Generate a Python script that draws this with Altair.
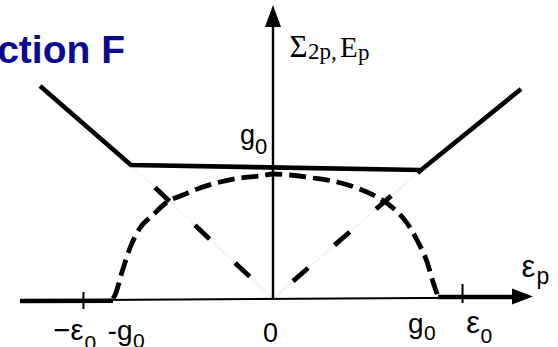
import altair as alt
import pandas as pd

# ---------------------------------------------------------------------------
# Quantities, all in units of the gap g0 (horizontal axis: epsilon_p)
# ---------------------------------------------------------------------------
G0 = 1.0
EPS0 = 1.17

# Sigma_2p: nearly flat inside the window, rising linearly outside it
sigma_eps = [-1.438, -0.877, 0.914, 1.531]
sigma_val = [1.700, 1.068, 1.028, 1.676]

# E_p: dome that closes at +-g0
gap_eps = [-0.988, -0.975, -0.932, -0.883, -0.821, -0.741, -0.654, -0.556,
           -0.451, -0.327, -0.204, -0.080, 0.000, 0.105, 0.247, 0.395,
           0.519, 0.642, 0.741, 0.827, 0.895, 0.951, 0.988, 1.019]
gap_val = [0.000, 0.028, 0.212, 0.404, 0.564, 0.668, 0.772, 0.828,
           0.884, 0.932, 0.964, 0.980, 0.996, 0.988, 0.964, 0.932,
           0.884, 0.812, 0.724, 0.604, 0.452, 0.292, 0.132, 0.012]

# tick labels along the epsilon_p axis (main glyph, subscript)
tick_eps = [-EPS0, -G0, 0.0, G0, EPS0]
tick_main = ["\u2212\u03b5", "-g", "0", "g", "\u03b5"]
tick_sub = ["0", "0", "", "0", "0"]

# ---------------------------------------------------------------------------
# Frame: pixel size, origin and pixels per unit
# ---------------------------------------------------------------------------
W, H = 558, 347
OX, OY = 273.0, 298.5
PX_E, PX_V = 162.0, 125.0

xs = alt.Scale(domain=[-OX / PX_E, (W - OX) / PX_E], nice=False, zero=False)
ys = alt.Scale(domain=[-(H - OY) / PX_V, OY / PX_V], nice=False, zero=False)
X = alt.X("e:Q", scale=xs, axis=None)
Y = alt.Y("v:Q", scale=ys, axis=None)
X2 = alt.X2("e2:Q")
Y2 = alt.Y2("v2:Q")

# axis extents
AX_LEFT, AX_BASE, AX_TIP = -1.562, 1.475, 1.605
AY_BASE, AY_TIP = 2.172, 2.348

# ---------------------------------------------------------------------------
# Lines
# ---------------------------------------------------------------------------
sigma_df = pd.DataFrame({"e": sigma_eps, "v": sigma_val})
gap_df = pd.DataFrame({"e": gap_eps, "v": gap_val})

# |epsilon| guides from the origin to the kinks of Sigma_2p
legs = pd.DataFrame({
    "leg": ["L", "L", "R", "R"],
    "k": [0, 1, 0, 1],
    "e": [0.0, sigma_eps[1], 0.0, sigma_eps[2]],
    "v": [0.0, sigma_val[1], 0.0, sigma_val[2]],
})

guide = alt.Chart(legs).mark_line(color="#e2e2e2", strokeWidth=0.8).encode(
    x=X, y=Y, detail="leg:N", order="k:Q")

leg_left = alt.Chart(legs[legs.leg == "L"]).mark_line(
    color="black", strokeWidth=4.8, strokeDash=[20, 35], strokeDashOffset=23
).encode(x=X, y=Y, order="k:Q")

leg_right = alt.Chart(legs[legs.leg == "R"]).mark_line(
    color="black", strokeWidth=4.8, strokeDash=[20, 35], strokeDashOffset=28.5
).encode(x=X, y=Y, order="k:Q")

gap_line = alt.Chart(gap_df).mark_line(
    color="black", strokeWidth=4.8, strokeDash=[17, 7], interpolate="monotone"
).encode(x=X, y=Y)

sigma_line = alt.Chart(sigma_df).mark_line(
    color="black", strokeWidth=4.6, strokeJoin="miter"
).encode(x=X, y=Y)

# ---------------------------------------------------------------------------
# Axes
# ---------------------------------------------------------------------------
thin_axes = pd.DataFrame({
    "e": [AX_LEFT, 0.0],
    "v": [-0.016, 0.0],
    "e2": [AX_BASE, 0.0],
    "v2": [0.008, AY_BASE],
    "w": [2.0, 2.4],
})
axes = alt.Chart(thin_axes).mark_rule(color="black").encode(
    x=X, y=Y, x2=X2, y2=Y2, strokeWidth=alt.StrokeWidth("w:Q", scale=None))

# E_p = 0 outside the gap: heavy segments on the axis
zero_df = pd.DataFrame({
    "e": [AX_LEFT, gap_eps[-1]],
    "v": [-0.020, 0.012],
    "e2": [gap_eps[0], AX_BASE],
    "v2": [-0.018, 0.012],
})
zero_seg = alt.Chart(zero_df).mark_rule(color="black", strokeWidth=4.5).encode(
    x=X, y=Y, x2=X2, y2=Y2)

ticks_df = pd.DataFrame({
    "e": [-EPS0, EPS0],
    "v": [0.052, 0.116],
    "e2": [-EPS0, EPS0],
    "v2": [-0.084, -0.036],
})
ticks = alt.Chart(ticks_df).mark_rule(color="black", strokeWidth=2).encode(
    x=X, y=Y, x2=X2, y2=Y2)

arrow_up = alt.Chart(pd.DataFrame({"e": [0.0], "v": [AY_TIP - 11 / PX_V]})).mark_point(
    shape="M0,-1L0.73,1L-0.73,1Z", size=484, filled=True, color="black", opacity=1
).encode(x=X, y=Y)

arrow_right = alt.Chart(pd.DataFrame({"e": [AX_TIP - 10.5 / PX_E], "v": [0.016]})).mark_point(
    shape="M1,0L-1,0.76L-1,-0.76Z", size=441, filled=True, color="black", opacity=1
).encode(x=X, y=Y)

# ---------------------------------------------------------------------------
# Text
# ---------------------------------------------------------------------------
def piece(txt, ae, av, dx, dy, size):
    return (txt, ae + dx / PX_E, av - dy / PX_V, size)

# (dx, dy, size) of main glyph and of subscript for each tick label
tick_main_off = [(0.0, 41.5, 29), (21.5, 41.0, 28), (-2.5, 43.5, 27),
                 (-11.5, 34.5, 28), (17.5, 34.5, 31)]
tick_sub_off = [(1.0, 51.0, 21), (22.0, 49.5, 21), (0, 0, 0),
                (-11.0, 41.5, 21), (18.0, 44.5, 21)]

sans_right, sans_left, sans_center = [], [], []
for e, m, s, mo, so in zip(tick_eps, tick_main, tick_sub, tick_main_off, tick_sub_off):
    if s:
        sans_right.append(piece(m, e, 0.0, *mo))
        sans_left.append(piece(s, e, 0.0, *so))
    else:
        sans_center.append(piece(m, e, 0.0, *mo))

# g0 marker on the vertical axis
sans_right.append(piece("g", 0.0, G0, -18.0, -30.0, 27))
sans_left.append(piece("0", 0.0, G0, -18.0, -19.5, 22))

# epsilon_p at the end of the horizontal axis
sans_left.append(piece("\u03b5", AX_TIP, 0.016, -11.5, -19.5, 31))
sans_left.append(piece("p", AX_TIP, 0.016, 3.5, -12.5, 23))

# Sigma_2p, E_p next to the vertical arrow
serif_left = [
    piece("\u03a3", 0.0, AY_TIP, 16.5, 52.0, 31),
    piece("2p,", 0.0, AY_TIP, 35.0, 54.0, 23),
    piece("E", 0.0, AY_TIP, 67.0, 52.0, 29),
    piece("p", 0.0, AY_TIP, 85.0, 54.5, 23),
]

title_rows = [piece("Function F", xs.domain[0], ys.domain[1], 125.0, 63.0, 39)]


def text_layer(rows, font, align, weight="normal", color="black"):
    df = pd.DataFrame(rows, columns=["txt", "e", "v", "size"])
    return alt.Chart(df).mark_text(
        font=font, align=align, baseline="alphabetic",
        fontWeight=weight, color=color
    ).encode(x=X, y=Y, text="txt:N", size=alt.Size("size:Q", scale=None))


texts = [
    text_layer(sans_right, "Liberation Sans", "right"),
    text_layer(sans_left, "Liberation Sans", "left"),
    text_layer(sans_center, "Liberation Sans", "center"),
    text_layer(serif_left, "Liberation Serif", "left"),
    text_layer(title_rows, "Liberation Sans", "right", "bold", "#0b0b91"),
]

chart = alt.layer(
    guide, axes, zero_seg, ticks, gap_line, leg_left, leg_right, sigma_line,
    arrow_up, arrow_right, *texts
).properties(
    width=W, height=H, padding=0,
    autosize=alt.AutoSizeParams(type="none"),
    background="white",
).configure_view(stroke=None)

chart.save("out.html", embed_options={"renderer": "svg", "actions": False})
